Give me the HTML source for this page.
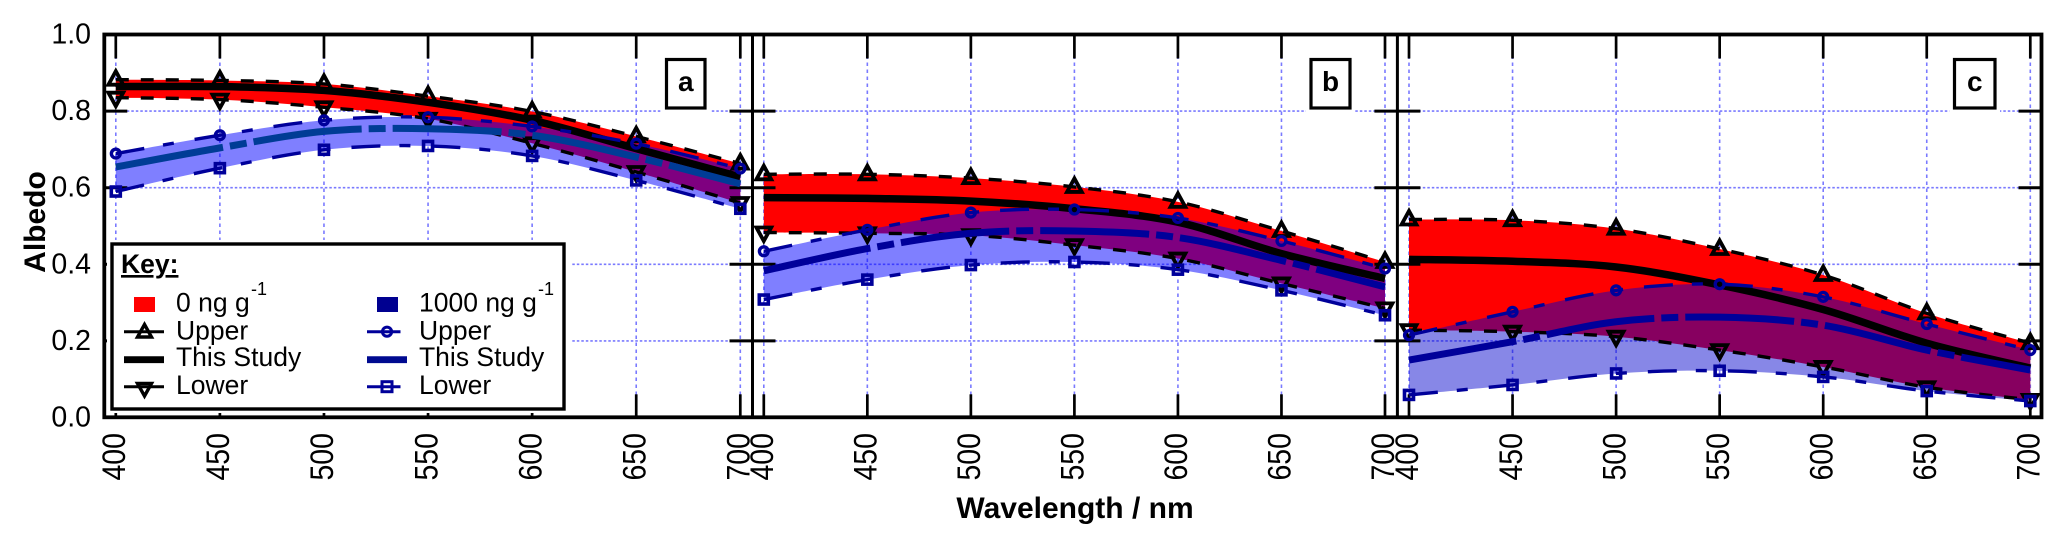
<!DOCTYPE html>
<html>
<head>
<meta charset="utf-8">
<title>Albedo vs Wavelength</title>
<style>
html,body{margin:0;padding:0;background:#fff;}
svg{display:block;font-family:"Liberation Sans",sans-serif;}
</style>
</head>
<body>
<svg id="chart" xmlns="http://www.w3.org/2000/svg" width="2067" height="549" viewBox="0 0 2067 549">
<rect x="0" y="0" width="2067" height="549" fill="#fff"/>
<g id="plot"></g>
<text transform="translate(45 222) rotate(-90)" text-anchor="middle" font-size="30" font-weight="bold">Albedo</text>
<text x="1075" y="518" text-anchor="middle" font-size="30" font-weight="bold">Wavelength / nm</text>
<g id="key">
<rect x="107" y="240" width="464" height="173" fill="#fff"/>
<rect x="112" y="244" width="452" height="165" fill="#fff" stroke="#000" stroke-width="3.4"/>
<text x="121" y="273" font-size="26.5" font-weight="bold" text-decoration="underline">Key:</text>
<rect x="134" y="297" width="21" height="15" fill="#ff0000"/>
<rect x="377" y="297" width="21" height="15" fill="#000090"/>
<text x="176" y="311.5" font-size="26.5">0 ng g</text>
<text x="251" y="295" font-size="18">-1</text>
<text x="176" y="339.5" font-size="26.5">Upper</text>
<text x="176" y="366" font-size="26.5">This Study</text>
<text x="176" y="394" font-size="26.5">Lower</text>
<text x="419" y="311.5" font-size="26.5">1000 ng g</text>
<text x="538" y="295" font-size="18">-1</text>
<text x="419" y="339.5" font-size="26.5">Upper</text>
<text x="419" y="366" font-size="26.5">This Study</text>
<text x="419" y="394" font-size="26.5">Lower</text>
<line x1="124" x2="164" y1="331.7" y2="331.7" stroke="#000" stroke-width="3"/>
<polygon points="144.5,324.5 151.5,337 137.5,337" fill="none" stroke="#000" stroke-width="3.4"/>
<line x1="124" x2="164" y1="359.7" y2="359.7" stroke="#000" stroke-width="6.8"/>
<line x1="124" x2="164" y1="386.7" y2="386.7" stroke="#000" stroke-width="3"/>
<polygon points="144.5,396 151.5,383.5 137.5,383.5" fill="none" stroke="#000" stroke-width="3.4"/>
<line x1="367" x2="400.5" y1="331.7" y2="331.7" stroke="#00009a" stroke-width="3"/>
<circle cx="387" cy="331.7" r="4.6" fill="none" stroke="#00009a" stroke-width="3"/>
<line x1="367" x2="407" y1="359.7" y2="359.7" stroke="#000a90" stroke-width="6.8"/>
<line x1="367" x2="400.5" y1="386.7" y2="386.7" stroke="#00009a" stroke-width="3"/>
<rect x="382" y="381.7" width="10" height="10" fill="none" stroke="#00009a" stroke-width="3"/>
</g>
</svg>
<script>
// ---- data ----
const wavelengths = [400, 450, 500, 550, 600, 650, 700];
const albedoTicks = [0.0, 0.2, 0.4, 0.6, 0.8, 1.0];
const albedoTickLabels = ["0.0", "0.2", "0.4", "0.6", "0.8", "1.0"];
const panelNames = ["a", "b", "c"];

const aUpper0 = [0.882, 0.880, 0.871, 0.839, 0.799, 0.734, 0.663];
const aStudy0 = [0.864, 0.864, 0.854, 0.823, 0.776, 0.702, 0.628];
const aLower0 = [0.835, 0.830, 0.810, 0.780, 0.716, 0.641, 0.560];
const aUpper1000 = [0.689, 0.737, 0.776, 0.784, 0.760, 0.715, 0.650];
const aStudy1000 = [0.654, 0.704, 0.747, 0.754, 0.737, 0.680, 0.610];
const aLower1000 = [0.590, 0.651, 0.699, 0.709, 0.683, 0.619, 0.545];

const bUpper0 = [0.635, 0.635, 0.625, 0.602, 0.563, 0.487, 0.406];
const bStudy0 = [0.574, 0.572, 0.565, 0.545, 0.510, 0.428, 0.363];
const bLower0 = [0.483, 0.481, 0.476, 0.450, 0.415, 0.350, 0.285];
const bUpper1000 = [0.434, 0.490, 0.535, 0.543, 0.521, 0.461, 0.389];
const bStudy1000 = [0.383, 0.441, 0.481, 0.487, 0.470, 0.410, 0.341];
const bLower1000 = [0.308, 0.360, 0.398, 0.406, 0.386, 0.332, 0.267];

const cUpper0 = [0.517, 0.515, 0.493, 0.440, 0.372, 0.272, 0.194];
const cStudy0 = [0.413, 0.408, 0.393, 0.346, 0.282, 0.194, 0.129];
const cLower0 = [0.228, 0.224, 0.211, 0.176, 0.132, 0.079, 0.046];
const cUpper1000 = [0.215, 0.276, 0.332, 0.348, 0.315, 0.244, 0.176];
const cStudy1000 = [0.150, 0.198, 0.250, 0.262, 0.241, 0.176, 0.124];
const cLower1000 = [0.059, 0.085, 0.115, 0.122, 0.106, 0.069, 0.043];

const panelSeries = [
  [aUpper0, aStudy0, aLower0, aUpper1000, aStudy1000, aLower1000],
  [bUpper0, bStudy0, bLower0, bUpper1000, bStudy1000, bLower1000],
  [cUpper0, cStudy0, cLower0, cUpper1000, cStudy1000, cLower1000]
];

// ---- layout ----
const NS = "http://www.w3.org/2000/svg";
const plot = document.getElementById("plot");
const frameTop = 34.5, frameBottom = 417.3, frameLeft = 104.3, frameRight = 2041.5;
const panelLeft = [115.8, 763.8, 1409];
const panelRight = [740.3, 1385, 2030.3];
const dividers = [752.5, 1397.4];
const boxes = [[666.5, 705], [1311, 1350], [1954.5, 1995]];
const bandFills = ["#0000ff", "#0000ff", "#0000cd"];
const bandAlpha = [0.5, 0.5, 0.47];
const studyBlue = ["#003c96", "#00009a", "#00009a"];
const GRID = "#7a7aff", BLUE = "#00009a";

function yAxis(v) { return 417.5 - 383 * v; }
function xAxis(p, w) {
  return panelLeft[p] + (w - wavelengths[0]) / (wavelengths[wavelengths.length - 1] - wavelengths[0]) * (panelRight[p] - panelLeft[p]);
}
function make(tag, attrs, parent) {
  const el = document.createElementNS(NS, tag);
  for (const k in attrs) el.setAttribute(k, attrs[k]);
  (parent || plot).appendChild(el);
  return el;
}
function pts(p, vals) {
  return vals.map((v, i) => [xAxis(p, wavelengths[i]), yAxis(v)]);
}
function curve(points, start) {
  let d = (start ? "M" : "L") + points[0][0].toFixed(2) + " " + points[0][1].toFixed(2);
  for (let i = 0; i < points.length - 1; i++) {
    const a = points[Math.max(i - 1, 0)], b = points[i], c = points[i + 1], e = points[Math.min(i + 2, points.length - 1)];
    const c1x = b[0] + (c[0] - a[0]) / 6, c1y = b[1] + (c[1] - a[1]) / 6;
    const c2x = c[0] - (e[0] - b[0]) / 6, c2y = c[1] - (e[1] - b[1]) / 6;
    d += "C" + c1x.toFixed(2) + " " + c1y.toFixed(2) + " " + c2x.toFixed(2) + " " + c2y.toFixed(2) + " " + c[0].toFixed(2) + " " + c[1].toFixed(2);
  }
  return d;
}
function bandPath(p, upper, lower) {
  return curve(pts(p, upper), true) + curve(pts(p, lower).reverse(), false) + "Z";
}

// ---- grid ----
albedoTicks.forEach((v, i) => {
  if (v === 0 || v === 1) return;
  const g = make("line", { x1: frameLeft, x2: frameRight, y1: yAxis(v), y2: yAxis(v), stroke: GRID, "stroke-width": 1.6, "stroke-dasharray": "2.5 2" });
  
  
});
panelNames.forEach((name, p) => {
  wavelengths.forEach(w => {
    const g = make("line", { x1: xAxis(p, w), x2: xAxis(p, w), y1: frameTop, y2: frameBottom, stroke: GRID, "stroke-width": 1.6, "stroke-dasharray": "3.5 3.5" });
    
    
  });
});

// ---- bands ----
panelNames.forEach((name, p) => {
  const s = panelSeries[p];
  const red = make("path", { d: bandPath(p, s[0], s[2]), fill: "#ff0000" });
  
  
});
panelNames.forEach((name, p) => {
  const s = panelSeries[p];
  const blue = make("path", { d: bandPath(p, s[3], s[5]), fill: bandFills[p], "fill-opacity": bandAlpha[p] });
  
  
});

// ---- axes, ticks ----
panelNames.forEach((name, p) => {
  wavelengths.forEach(w => {
    const x = xAxis(p, w);
    const t1 = make("line", { x1: x, x2: x, y1: frameTop, y2: frameTop + 24, stroke: "#000", "stroke-width": 2.7 });
    
    
    const t2 = make("line", { x1: x, x2: x, y1: frameBottom, y2: frameBottom - 23, stroke: "#000", "stroke-width": 2.7 });
    
    
    const lab = make("text", { transform: "translate(" + (x + 9.2).toFixed(1) + " 433) rotate(-90) scale(1 1.15)", "text-anchor": "end", "font-size": 28.5 });
    
    
    lab.textContent = String(w);
  });
});
albedoTicks.forEach((v, i) => {
  const y = yAxis(v);
  const lab = make("text", { x: 91, y: y + 9, "text-anchor": "end", "font-size": 28.5 });
  
  
  lab.textContent = albedoTickLabels[i];
  if (v === 0 || v === 1) return;
  const spans = [[frameLeft, frameLeft + 23], [dividers[0] - 23, dividers[0] + 23], [dividers[1] - 23, dividers[1] + 23], [frameRight - 23, frameRight]];
  spans.forEach(sp => {
    const t = make("line", { x1: sp[0], x2: sp[1], y1: y, y2: y, stroke: "#000", "stroke-width": 3 });
    
    
  });
});
const frame = make("rect", { x: frameLeft, y: frameTop, width: frameRight - frameLeft, height: frameBottom - frameTop, fill: "none", stroke: "#000", "stroke-width": 3.8 });


dividers.forEach(x => {
  const d = make("line", { x1: x, x2: x, y1: frameTop, y2: frameBottom, stroke: "#000", "stroke-width": 3 });
  
  
});

// ---- series lines & markers ----
function drawMarker(kind, x, y, color) {
  let m;
  if (kind === "up") {
    m = make("polygon", { points: [x, y - 8.5, x + 7.4, y + 5, x - 7.4, y + 5].join(","), fill: "none", stroke: color, "stroke-width": 3.8 });
  } else if (kind === "down") {
    m = make("polygon", { points: [x, y + 8.5, x + 7.4, y - 5, x - 7.4, y - 5].join(","), fill: "none", stroke: color, "stroke-width": 3.8 });
  } else if (kind === "circle") {
    m = make("circle", { cx: x, cy: y, r: 4.4, fill: "none", stroke: color, "stroke-width": 3.4 });
  } else {
    m = make("rect", { x: x - 4.5, y: y - 4.5, width: 9, height: 9, fill: "none", stroke: color, "stroke-width": 3.6 });
  }
  return m;
}
panelNames.forEach((name, p) => {
  const s = panelSeries[p];
  const black = [
    { vals: s[0], kind: "up", nm: "upper-0-ng" },
    { vals: s[2], kind: "down", nm: "lower-0-ng" }
  ];
  black.forEach(o => {
    const l = make("path", { d: curve(pts(p, o.vals), true), fill: "none", stroke: "#000", "stroke-width": 3.4, "stroke-dasharray": "13 12" });
    
    
    pts(p, o.vals).forEach(q => {
      const m = drawMarker(o.kind, q[0], q[1], "#000");
      
      
    });
  });
  const st0 = make("path", { d: curve(pts(p, s[1]), true), fill: "none", stroke: "#000", "stroke-width": 7.5 });
  
  
  const blue = [
    { vals: s[3], kind: "circle", nm: "upper-1000-ng" },
    { vals: s[5], kind: "square", nm: "lower-1000-ng" }
  ];
  blue.forEach(o => {
    const l = make("path", { d: curve(pts(p, o.vals), true), fill: "none", stroke: BLUE, "stroke-width": 3.4, "stroke-dasharray": "29 19 11 21" });
    
    
    pts(p, o.vals).forEach(q => {
      const m = drawMarker(o.kind, q[0], q[1], BLUE);
      
      
    });
  });
  const st1 = make("path", { d: curve(pts(p, s[4]), true), fill: "none", stroke: studyBlue[p], "stroke-width": 7, "stroke-dasharray": "109 7 17 7" });
  
  

  const b = boxes[p];
  const clear = make("rect", { x: b[0] - 5, y: 56, width: b[1] - b[0] + 10, height: 62, fill: "#fff" });
  
  
  const box = make("rect", { x: b[0], y: 59.5, width: b[1] - b[0], height: 48.5, fill: "#fff", stroke: "#000", "stroke-width": 3.2 });
  
  
  const t = make("text", { x: (b[0] + b[1]) / 2, y: 91, "text-anchor": "middle", "font-size": 28, "font-weight": "bold" });
  
  
  t.textContent = name;
});
</script>
</body>
</html>
